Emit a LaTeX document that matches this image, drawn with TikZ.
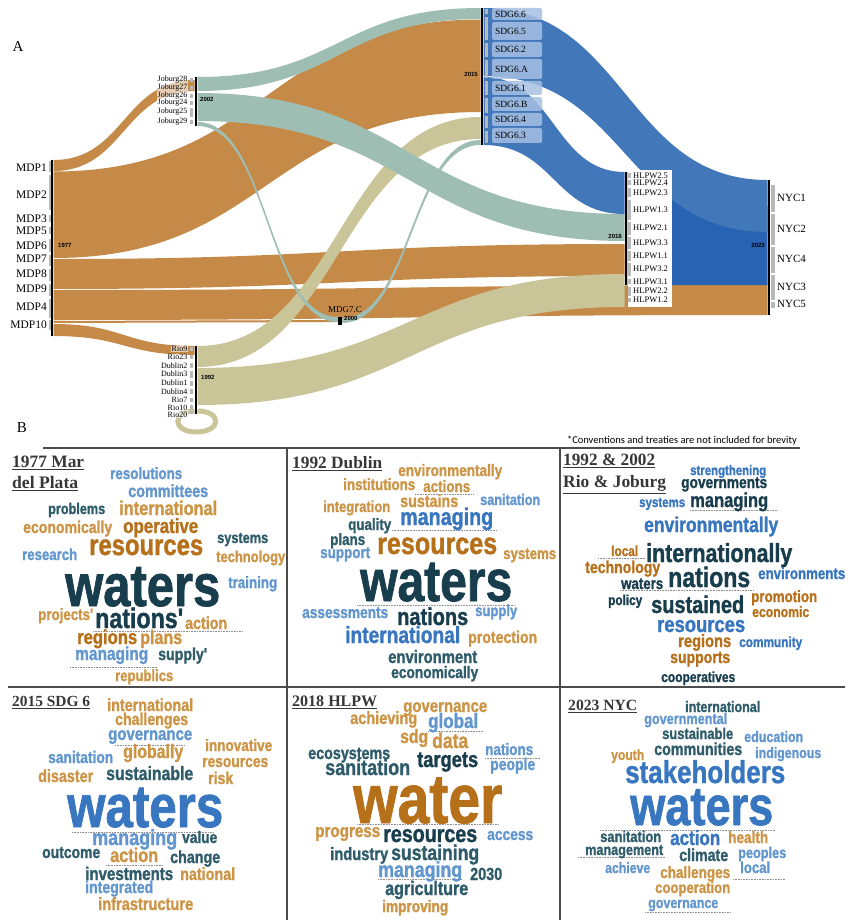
\documentclass[tikz,border=0pt]{standalone}
\usepackage{fontspec}
\usepackage{graphicx}
\setmainfont{Liberation Serif}
\newfontfamily\cloudfont[FakeStretch=0.82, FakeBold=1.2]{Liberation Sans}
\newfontfamily\notefont{Carlito}
\newfontfamily\yearfont{Liberation Sans}

\definecolor{flowor}{RGB}{197,137,72}
\definecolor{flowtl}{RGB}{158,190,180}
\definecolor{flowkh}{RGB}{201,197,152}
\definecolor{flowbl}{RGB}{66,120,186}
\definecolor{flowdb}{RGB}{40,98,178}
\definecolor{sdgbox}{RGB}{166,192,226}
\definecolor{wdark}{RGB}{24,62,78}
\definecolor{wteal}{RGB}{46,92,106}
\definecolor{wor}{RGB}{183,112,26}
\definecolor{wlor}{RGB}{204,148,68}
\definecolor{wbl}{RGB}{56,118,192}
\definecolor{wlbl}{RGB}{98,150,206}
\definecolor{ttlcol}{RGB}{55,55,55}

% ribbon: colour, x1, top1, bottom1, x2, top2, bottom2
\newcommand{\ribbon}[7]{%
  \pgfmathsetmacro{\xmid}{(#2+#5)/2}%
  \fill[#1] (#2,#3) .. controls (\xmid,#3) and (\xmid,#6) .. (#5,#6)
    -- (#5,#7) .. controls (\xmid,#7) and (\xmid,#4) .. (#2,#4) -- cycle;}
\newcommand{\cw}[2]{\resizebox{#1pt}{!}{#2}}
\newcommand{\tw}[2]{\resizebox{#1pt}{!}{\bfseries\underline{#2}}}

\tikzset{
  bar/.style={rectangle, fill=black, inner sep=0pt, minimum width=2.6pt},
  tick/.style={fill=black!28},
  mdp/.style={anchor=east, inner sep=0pt, font=\fontsize{11.5}{12}\selectfont},
  smlab/.style={anchor=east, inner sep=0.5pt, fill=white, fill opacity=0.6, text opacity=1, font=\fontsize{8}{8}\selectfont},
  hlpw/.style={anchor=west, inner sep=0pt, font=\fontsize{8.5}{8.5}\selectfont},
  nyc/.style={anchor=west, inner sep=0pt, font=\fontsize{11}{11}\selectfont},
  sdg/.style={rectangle, rounded corners=2pt, fill=sdgbox, fill opacity=0.85, text opacity=1, text width=44pt, align=left, inner xsep=3pt, inner ysep=0pt, font=\fontsize{9.5}{9.5}\selectfont},
  yr/.style={inner sep=0pt, font=\yearfont\bfseries\fontsize{6}{6}\selectfont},
  word/.style={anchor=base west, inner sep=0pt, text=#1, font=\cloudfont\bfseries},
  ttl/.style={anchor=base west, inner sep=0pt, text=ttlcol},
  frame/.style={draw=black!70, line width=1.6pt},
  dots/.style={draw=black!45, densely dotted, line width=0.6pt}
}

\begin{document}
\begin{tikzpicture}[x=1pt, y=-1pt]
\useasboundingbox (0,0) rectangle (850,920);
\fill[white] (0,0) rectangle (850,920);

\node[font=\fontsize{15}{15}\selectfont] (panA) at (18,47) {A};

% flows
\ribbon{flowor}{53.5}{160}{171}{194.5}{80}{91}
\ribbon{flowor}{53.5}{171.5}{258}{480.5}{19.5}{112}
\ribbon{flowor}{53.5}{259}{289}{624.5}{244}{276}
\ribbon{flowor}{53.5}{290}{320}{767.5}{285}{315}
\ribbon{flowor}{53.5}{321}{323}{338}{320}{322}
\ribbon{flowor}{53.5}{324}{336}{194.5}{346}{355}
\ribbon{flowkh}{197.5}{346}{367}{480.5}{117}{139}
\ribbon{flowkh}{197.5}{368}{405}{624.5}{274}{307}
\draw[flowkh, line width=5pt] (197.5,411) .. controls (222,411) and (222,432) .. (196,432) .. controls (172,432) and (172,411) .. (194.5,411);
\ribbon{flowtl}{197.5}{77}{91}{480.5}{8}{19}
\ribbon{flowtl}{197.5}{93}{121}{624.5}{214}{241}
\ribbon{flowtl}{197.5}{122}{126}{338}{317}{322}
\ribbon{flowtl}{342}{318}{323}{480.5}{140}{145}
\ribbon{flowdb}{627.5}{172}{285}{767.5}{206}{285}
\ribbon{flowbl}{483.5}{8}{76}{767.5}{180}{232}
\ribbon{flowbl}{483.5}{77}{145}{624.5}{172}{214}

% year bars
\node[bar, minimum height=176pt] (y1977) at (52,248) {};
\node[bar, minimum height=49pt] (y2002) at (196,101.5) {};
\node[bar, minimum height=68pt] (y1992) at (196,380) {};
\node[bar, minimum height=8pt, minimum width=4pt] (y2000) at (340,321) {};
\node[bar, minimum height=137pt] (y2015) at (482,76.5) {};
\node[bar, minimum height=113pt] (y2018) at (626,228.5) {};
\node[bar, minimum height=135pt] (y2023) at (769,247.5) {};

\node[yr, anchor=west] (t1977) at (58,245) {1977};
\node[yr, anchor=west] (t2002) at (200,99) {2002};
\node[yr, anchor=west] (t1992) at (201,377) {1992};
\node[yr, anchor=west] (t2000) at (344,318) {2000};
\node[yr, anchor=east] (t2015) at (478,74) {2015};
\node[yr, anchor=east] (t2018) at (622,236) {2018};
\node[yr, anchor=east] (t2023) at (765,245) {2023};

% ticks
\foreach \ya/\yb in {161/172, 175/210, 215/222, 227/234, 239/252, 255/266, 269/281, 284/296, 299/318, 320/330}
  \fill[tick] (48.5,\ya) rectangle (50.5,\yb);
\foreach \ya/\yb in {78/82, 86/90, 94/98, 101/105, 108/117, 120/124, 347/351, 355/359, 363/368, 371/378, 381/386, 389/394, 398/402, 405/409, 411/414}
  \fill[tick] (190,\ya) rectangle (193,\yb);
\foreach \ya/\yb in {9/14, 17/40, 43/57, 60/78, 81/95, 98/113, 116/128, 131/143}
  \fill[tick] (484.5,\ya) rectangle (488,\yb);
\foreach \ya/\yb in {185/212, 214/245, 247/273, 275/300, 302/308}
  \fill[tick] (771,\ya) rectangle (774.5,\yb);

% labels
\foreach \lab/\y [count=\i] in {MDP1/168, MDP2/195, MDP3/219, MDP5/231, MDP6/246, MDP7/259, MDP8/274, MDP9/289, MDP4/307, MDP10/325}
  \node[mdp] (mdp\i) at (47,\y) {\lab};
\foreach \lab/\y [count=\i] in {Joburg28/80, Joburg27/88, Joburg26/96, Joburg24/103, Joburg25/112, Joburg29/122}
  \node[smlab] (jb\i) at (188,\y) {\lab};
\foreach \lab/\y [count=\i] in {Rio9/349, Rio23/357, Dublin2/366, Dublin3/374, Dublin1/383, Dublin4/392, Rio7/400, Rio10/408, Rio20/415}
  \node[smlab] (rd\i) at (188,\y) {\lab};
\foreach \lab/\ya/\yb [count=\i] in {SDG6.6/8/20, SDG6.5/22/40, SDG6.2/42/57, SDG6.A/59/79, SDG6.1/81/95, SDG6.B/97/111, SDG6.4/113/126, SDG6.3/128/143} {
  \pgfmathsetmacro{\yc}{(\ya+\yb)/2}
  \pgfmathsetmacro{\hh}{\yb-\ya}
  \node[sdg, minimum height=\hh pt] (sdg\i) at (517,\yc) {\lab};
}
\node[fill=white, inner sep=0pt, minimum width=44pt, minimum height=137pt] (hlpwbox) at (650,238.5) {};
\foreach \ya/\yb in {173/178, 180/185, 188/197, 200/220, 222/235, 237/249, 251/261, 263/276, 279/284, 287/296, 298/302}
  \fill[tick] (628,\ya) rectangle (631,\yb);
\foreach \lab/\y [count=\i] in {HLPW2.5/176, HLPW2.4/183, HLPW2.3/193, HLPW1.3/210, HLPW2.1/228, HLPW3.3/243, HLPW1.1/256, HLPW3.2/269, HLPW3.1/282, HLPW2.2/291, HLPW1.2/300}
  \node[hlpw] (hl\i) at (633,\y) {\lab};
\foreach \lab/\y [count=\i] in {NYC1/198, NYC2/229, NYC4/259, NYC3/287, NYC5/304}
  \node[nyc] (nyc\i) at (777,\y) {\lab};
\node[anchor=base west, inner sep=0pt, font=\fontsize{9}{9}\selectfont] (mdg) at (328,312) {MDG7.C};

% panel B
\node[font=\fontsize{15}{15}\selectfont] (panB) at (22,428) {B};
\node[anchor=base east, inner sep=0pt, font=\notefont\fontsize{10.5}{12}\selectfont] (note) at (797,443) {*Conventions and treaties are not included for brevity};
\draw[frame] (43,448) -- (800,448);
\draw[frame] (8,687) -- (845,687);
\draw[frame] (287,448) -- (287,920);
\draw[frame] (560,448) -- (560,920);

\node[ttl] (h1a) at (12,467) {\tw{72}{1977 Mar}};
\node[ttl] (h1b) at (12,488) {\tw{66}{del Plata}};
\node[ttl] (h2) at (292,468) {\tw{90}{1992 Dublin}};
\node[ttl] (h3a) at (563,465) {\tw{92}{1992 \& 2002}};
\node[ttl] (h3b) at (563,487) {\tw{103}{Rio \& Joburg}};
\node[ttl] (h4) at (12,706) {\tw{78}{2015 SDG 6}};
\node[ttl] (h5) at (292,706) {\tw{85}{2018 HLPW}};
\node[ttl] (h6) at (568,710) {\tw{69}{2023 NYC}};

\foreach \xa/\xb/\y in {93/242/631, 70/157/667, 392/497/530, 357/515/605, 415/473/494, 598/646/558, 690/778/510, 620/753/590, 115/185/745, 72/213/832, 106/163/865, 428/483/731, 485/540/758, 357/498/824, 378/462/879, 578/665/857, 733/785/879, 645/730/912, 600/775/830}
  \draw[dots] (\xa,\y) -- (\xb,\y);

% word clouds
\foreach \wtxt/\x/\y/\ww/\wcol [count=\i] in {resolutions/110/479/72/wlbl, committees/128/497/80/wlbl, problems/48/514/57/wteal, international/119/515/98/wlor, economically/23/533/89/wlor, operative/123/533/75/wor, systems/217/543/51/wteal, resources/89/555/114/wor, research/22/560/55/wlbl, technology/216/562/69/wlor, waters/65/606/155/wdark, training/228/588/49/wlbl, projects'/38/620/55/wlor, nations'/95/628/88/wdark, action/185/629/42/wlor, regions/77/644/60/wor, plans/140/644/42/wlor, managing/75/660/73/wlbl, supply'/158/660/49/wteal, republics/115/681/58/wlor}
  \node[word=\wcol] (a\i) at (\x,\y) {\cw{\ww}{\wtxt}};
\foreach \wtxt/\x/\y/\ww/\wcol [count=\i] in {environmentally/398/476/104/wlor, institutions/343/490/72/wlor, actions/423/492/47/wlor, sustains/400/507/58/wlor, sanitation/480/505/60/wlbl, integration/323/512/67/wlor, managing/400/525/93/wbl, quality/348/530/43/wteal, plans/330/545/35/wteal, resources/377/554/120/wor, support/320/558/50/wlbl, systems/503/559/53/wlor, waters/360/601/152/wdark, assessments/302/618/86/wlbl, nations/397/625/71/wdark, supply/475/616/42/wlbl, international/345/643/115/wbl, protection/468/643/69/wlor, environment/388/663/89/wteal, economically/391/678/87/wteal}
  \node[word=\wcol] (b\i) at (\x,\y) {\cw{\ww}{\wtxt}};
\foreach \wtxt/\x/\y/\ww/\wcol [count=\i] in {strengthening/690/475/76/wbl, governments/681/488/86/wdark, systems/639/507/46/wbl, managing/690/507/78/wdark, environmentally/644/532/134/wbl, local/611/556/27/wor, internationally/646/562/146/wdark, technology/585/573/75/wor, nations/668/587/82/wdark, environments/758/579/87/wbl, waters/621/589/42/wdark, policy/608/605/34/wdark, sustained/651/613/93/wdark, promotion/751/602/66/wor, economic/752/617/57/wor, resources/657/632/88/wbl, regions/678/647/53/wor, community/739/647/63/wbl, supports/670/663/60/wor, cooperatives/661/682/74/wdark}
  \node[word=\wcol] (c\i) at (\x,\y) {\cw{\ww}{\wtxt}};
\foreach \wtxt/\x/\y/\ww/\wcol [count=\i] in {international/107/711/86/wlor, challenges/115/725/73/wlor, governance/108/740/84/wlbl, globally/123/758/60/wlor, innovative/205/751/67/wlor, resources/202/767/66/wlor, sanitation/48/763/65/wlbl, disaster/38/782/55/wlor, sustainable/106/780/87/wteal, risk/208/784/25/wlor, waters/67/827/156/wbl, managing/92/845/85/wlbl, value/182/843/35/wteal, outcome/42/858/58/wteal, action/110/862/48/wlor, change/170/863/50/wteal, investments/85/880/88/wteal, national/180/880/55/wlor, integrated/85/893/68/wlbl, infrastructure/98/910/95/wlor}
  \node[word=\wcol] (d\i) at (\x,\y) {\cw{\ww}{\wtxt}};
\foreach \wtxt/\x/\y/\ww/\wcol [count=\i] in {governance/403/712/84/wlor, achieving/350/724/67/wlor, global/428/728/50/wlbl, sdg/400/743/28/wlor, data/432/748/36/wlor, ecosystems/308/759/82/wteal, targets/417/767/61/wdark, nations/485/755/48/wlbl, sanitation/325/775/85/wteal, people/490/770/45/wlbl, water/353/823/149/wor, progress/315/837/65/wlor, resources/383/842/94/wdark, access/487/840/46/wlbl, industry/330/860/58/wteal, sustaining/391/860/88/wteal, managing/378/877/84/wlbl, 2030/470/880/32/wteal, agriculture/385/895/83/wteal, improving/382/912/66/wlor}
  \node[word=\wcol] (e\i) at (\x,\y) {\cw{\ww}{\wtxt}};
\foreach \wtxt/\x/\y/\ww/\wcol [count=\i] in {international/685/712/75/wteal, governmental/644/724/83/wlbl, sustainable/662/739/71/wteal, education/744/742/59/wlbl, communities/654/755/88/wteal, youth/611/760/33/wlor, indigenous/755/758/66/wlbl, stakeholders/625/783/160/wbl, waters/630/825/143/wbl, sanitation/600/842/61/wteal, action/670/845/50/wbl, health/728/843/40/wlor, management/585/855/78/wteal, climate/679/861/49/wteal, peoples/738/858/48/wlbl, achieve/605/873/45/wlbl, challenges/660/878/70/wlor, local/740/873/30/wlbl, cooperation/655/893/75/wlor, governance/648/908/70/wlbl}
  \node[word=\wcol] (f\i) at (\x,\y) {\cw{\ww}{\wtxt}};

\end{tikzpicture}
\end{document}
